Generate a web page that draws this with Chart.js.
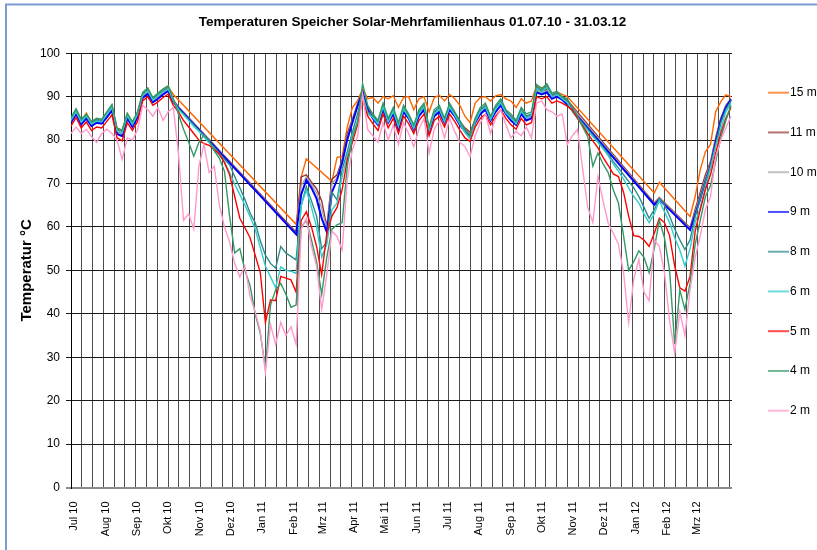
<!DOCTYPE html>
<html>
<head>
<meta charset="utf-8">
<script src="https://cdn.jsdelivr.net/npm/chart.js@4/dist/chart.umd.min.js"></script>
<style>
  html, body { margin: 0; padding: 0; background: #fff; }
  canvas { display: block; }
</style>
</head>
<body>
<canvas id="chartSpeicher" width="817" height="550"></canvas>
<script>
// ══════════════════════════════════════════════════
//  DATA  (Tage ab 01.07.10, Temperaturen in °C)
// ══════════════════════════════════════════════════
const days = [
  0,5,10,15,20,25,30,35,40,45,
  50,55,60,65,70,75,80,85,90,95,
  100,105,110,115,120,125,130,135,140,145,
  150,155,160,165,170,175,180,185,190,195,
  200,205,210,215,220,225,230,235,240,245,
  250,255,260,265,270,275,280,285,290,295,
  300,305,310,315,320,325,330,335,340,345,
  350,355,360,365,370,375,380,385,390,395,
  400,405,410,415,420,425,430,435,440,445,
  450,455,460,465,470,475,480,485,490,495,
  500,505,510,515,520,525,530,535,540,545,
  550,555,560,565,570,575,580,585,590,595,
  600,605,610,615,620,625,630,635,640,645
];

const monthLabels = ['Jul 10','Aug 10','Sep 10','Okt 10','Nov 10','Dez 10','Jan 11','Feb 11','Mrz 11','Apr 11','Mai 11',
  'Jun 11','Jul 11','Aug 11','Sep 11','Okt 11','Nov 11','Dez 11','Jan 12','Feb 12','Mrz 12'];
const monthStart = [0,31,62,92,123,153,184,215,243,274,304,335,365,396,427,457,488,518,549,580,609];

const yTicks = [0,10,20,30,40,50,60,70,80,90,100];

const t15 = [
  84.8,87.0,84.5,86.2,84.0,84.8,84.5,86.2,88.0,82.5,
  82.2,86.0,84.0,86.3,90.5,91.8,89.5,90.5,91.5,92.3,
  90.5,null,null,null,null,null,null,null,null,null,
  null,null,null,null,null,null,null,null,null,null,
  null,null,null,null,60.6,71.5,75.7,null,null,null,
  null,70.5,76.0,76.2,83.0,87.5,89.0,91.8,89.5,89.8,
  88.5,90.0,89.5,90.2,87.5,89.8,90.0,87.0,89.5,90.0,
  86.5,89.8,90.3,89.0,90.5,89.5,88.0,85.5,84.0,88.5,
  89.8,90.0,89.0,90.2,90.5,89.5,89.0,87.5,89.5,88.5,
  89.0,92.5,92.0,92.3,90.5,91.0,90.5,90.0,null,null,
  null,null,null,null,null,null,null,null,null,null,
  null,null,null,null,67.8,70.3,null,null,null,null,
  null,62.4,67.0,73.2,77.3,79.0,86.5,88.8,90.4,90.0
];
const t11 = [
  84.6,86.5,84.2,85.6,83.8,84.5,84.3,85.8,87.4,82.0,
  81.5,85.5,83.6,85.8,90.2,91.2,89.2,90.0,91.0,91.8,
  89.2,87.7,null,null,null,null,null,null,null,null,
  null,null,null,null,null,null,null,null,null,null,
  null,null,null,null,58.8,71.5,72.0,70.3,68.8,66.0,
  60.0,71.0,72.0,75.5,81.5,84.8,88.3,91.0,87.5,85.8,
  84.3,87.8,84.8,86.8,83.3,87.2,85.8,83.2,86.3,87.8,
  82.8,86.3,87.3,84.8,87.8,86.3,84.3,82.8,81.8,84.8,
  86.8,87.8,85.3,87.3,88.8,86.8,85.3,84.3,86.8,85.3,
  85.8,91.8,91.2,91.8,90.2,90.6,90.0,89.2,null,null,
  null,null,null,null,null,null,null,null,null,null,
  null,null,null,null,65.5,66.8,null,null,null,null,
  null,59.8,64.0,68.0,72.0,75.0,80.5,85.0,88.0,89.5
];
const t10 = [
  84.4,86.3,84.0,85.4,83.6,84.3,84.1,85.6,87.2,81.8,
  81.3,85.3,83.4,85.6,90.0,91.0,89.0,89.8,90.8,91.6,
  89.0,87.6,null,null,null,null,null,null,null,null,
  null,null,null,null,null,null,null,null,null,null,
  null,null,null,null,58.5,69.5,71.5,69.8,67.8,64.2,
  59.5,70.0,71.3,75.0,80.8,84.3,88.0,91.0,87.2,85.4,
  83.9,87.4,84.4,86.4,82.9,86.8,85.4,82.8,85.9,87.4,
  82.4,85.9,86.9,84.4,87.4,85.9,83.9,82.4,81.4,84.4,
  86.4,87.4,84.9,86.9,88.4,86.4,84.9,83.9,86.4,84.9,
  85.4,91.4,90.8,91.4,89.8,90.3,89.6,88.8,null,null,
  null,null,null,null,null,null,null,null,null,null,
  null,null,null,null,65.3,66.6,null,null,null,null,
  null,59.5,63.4,67.2,71.2,74.5,80.0,84.8,87.8,89.4
];
const t9 = [
  84.0,86.0,83.6,85.0,83.2,84.0,83.8,85.2,86.8,81.4,
  80.9,85.0,83.0,85.2,89.7,90.6,88.7,89.5,90.5,91.3,
  88.8,87.4,null,null,null,null,null,null,null,null,
  null,null,null,null,null,null,null,null,null,null,
  null,null,null,null,58.3,67.5,70.8,69.0,66.5,62.0,
  58.8,68.0,70.8,74.7,80.1,84.0,87.8,91.0,87.0,85.0,
  83.5,87.0,84.0,86.0,82.5,86.5,85.0,82.4,85.5,87.0,
  82.0,85.5,86.5,84.0,87.0,85.5,83.5,82.0,81.0,84.0,
  86.0,87.0,84.5,86.5,88.0,86.0,84.5,83.5,86.0,84.5,
  85.0,91.0,90.5,91.0,89.5,90.0,89.3,88.2,null,null,
  null,null,null,null,null,null,null,null,null,null,
  null,null,null,null,65.1,66.3,null,null,null,null,
  null,59.3,62.8,66.5,70.5,74.0,79.5,84.5,87.5,89.3
];
const t8 = [
  84.8,86.8,84.4,85.8,84.0,84.7,84.5,86.2,87.8,82.4,
  82.0,85.9,83.9,86.2,90.6,91.6,89.5,90.5,91.4,92.1,
  89.2,87.2,86.0,84.7,83.5,82.2,81.0,79.6,78.3,77.0,
  75.6,74.3,71.6,69.0,66.3,63.2,61.0,56.8,53.5,51.6,
  50.5,55.5,54.0,53.2,52.4,65.0,69.3,66.0,62.5,55.0,
  56.5,68.0,66.2,73.2,77.3,81.8,86.0,90.5,86.5,85.5,
  84.0,88.0,84.5,87.0,83.5,87.5,85.5,83.0,86.5,88.0,
  82.5,86.5,87.5,84.5,88.0,86.0,84.0,82.0,80.5,84.5,
  87.0,88.0,85.0,87.5,89.0,86.5,85.5,84.0,87.0,85.5,
  86.0,92.3,91.4,92.5,90.4,90.8,89.8,89.0,86.8,85.3,
  83.9,82.5,81.1,79.7,78.3,76.8,75.0,73.6,72.0,70.5,
  69.0,67.0,64.5,62.0,64.0,66.5,65.0,62.5,59.5,57.0,
  54.8,57.0,62.4,66.5,70.5,74.0,79.0,84.0,87.0,89.0
];
const t6 = [
  84.5,86.5,84.1,85.5,83.7,84.4,84.2,85.9,87.5,82.1,
  81.6,85.6,83.6,85.9,90.3,91.3,89.2,90.2,91.1,91.8,
  89.0,87.0,85.8,84.5,83.2,82.0,80.7,79.4,78.0,76.5,
  75.0,72.5,69.8,67.5,65.0,62.4,59.5,55.2,51.0,48.5,
  46.0,50.8,50.0,49.8,49.3,65.0,68.5,64.5,60.0,53.0,
  56.0,64.0,65.5,71.6,76.3,81.0,84.5,90.0,86.0,85.2,
  83.7,87.6,84.2,86.6,83.1,87.1,85.2,82.7,86.1,87.6,
  82.2,86.1,87.1,84.2,87.6,85.7,83.7,81.7,80.3,84.2,
  86.6,87.6,84.7,87.1,88.6,86.2,85.1,83.7,86.6,85.1,
  85.7,91.9,91.0,92.1,90.0,90.5,89.5,88.6,86.5,85.0,
  83.6,82.2,80.8,79.4,78.0,76.4,74.5,72.8,71.0,69.0,
  67.0,65.5,63.0,61.0,63.0,66.0,63.5,61.0,57.5,54.7,
  51.0,55.0,61.0,64.5,69.0,73.5,78.5,82.5,86.5,88.5
];
const t5 = [
  83.2,85.2,82.8,84.2,82.2,83.0,82.8,84.3,85.8,80.5,
  79.8,84.0,82.2,84.3,89.0,90.0,88.0,88.8,89.8,90.6,
  88.0,86.5,84.5,83.0,81.5,80.0,79.2,78.8,77.8,76.8,
  74.8,72.0,67.0,62.0,59.8,57.5,53.5,49.5,38.0,43.2,
  43.0,48.6,48.2,47.8,45.0,61.5,63.5,60.0,55.5,49.0,
  58.5,62.5,64.5,68.6,75.5,79.5,83.5,89.3,85.5,83.8,
  82.2,86.0,82.8,85.0,81.5,85.5,83.8,81.5,84.5,86.0,
  81.0,84.5,85.5,83.0,86.0,84.3,82.3,80.5,79.7,83.0,
  85.0,86.0,83.5,85.5,87.0,85.0,83.5,82.5,85.0,83.5,
  84.0,90.0,89.5,90.0,88.5,89.0,88.5,87.8,86.9,85.0,
  83.3,81.5,79.8,78.2,76.0,74.2,72.2,71.6,68.0,62.5,
  58.0,57.8,57.0,55.5,58.5,62.0,61.0,58.0,51.0,46.0,
  45.2,48.6,59.0,64.0,68.6,72.0,77.0,81.5,85.0,87.5
];
const t4 = [
  85.2,87.2,84.8,86.0,84.3,85.0,84.8,86.5,88.2,82.8,
  82.3,86.2,84.2,86.5,91.0,92.0,89.8,90.8,91.8,92.5,
  89.5,86.0,82.5,79.5,76.3,79.5,81.2,79.8,77.5,75.8,
  72.8,62.5,54.0,55.0,50.0,46.5,40.0,35.5,27.5,42.0,
  45.5,47.0,44.5,41.5,42.0,60.0,61.5,57.0,52.0,44.5,
  53.0,59.5,60.5,61.0,74.0,80.5,84.0,93.0,88.0,86.0,
  84.5,88.5,85.0,87.5,84.0,88.0,86.0,83.5,87.0,88.5,
  83.0,87.0,88.0,85.0,88.5,86.5,84.5,82.5,81.0,85.0,
  87.5,88.5,85.5,88.0,89.5,87.0,86.0,84.5,87.5,86.0,
  86.5,92.8,91.8,93.0,90.8,91.2,90.0,89.5,87.5,85.5,
  83.0,80.8,74.0,77.0,74.5,72.5,68.5,65.5,58.0,50.0,
  52.0,54.5,53.0,49.5,55.0,61.5,57.5,50.0,33.0,45.5,
  41.0,47.0,56.0,61.5,67.0,69.5,75.0,80.5,84.5,88.0
];
const t2 = [
  81.5,83.0,81.5,82.5,80.8,79.5,81.5,82.5,81.5,80.0,
  75.5,80.5,80.0,82.3,88.0,87.0,85.5,87.5,84.5,86.5,
  87.5,77.0,61.5,63.0,59.5,74.0,79.0,72.5,74.0,65.0,
  60.0,56.5,51.5,48.5,51.0,44.0,40.5,36.0,26.5,37.5,
  33.0,38.0,35.0,37.0,33.0,59.5,62.0,55.5,51.0,41.0,
  49.0,59.0,57.8,54.7,70.9,77.8,80.8,90.5,82.4,81.0,
  79.5,84.0,80.0,83.5,79.0,84.0,81.5,78.5,82.5,85.0,
  77.0,82.5,84.5,80.5,85.0,82.0,79.5,78.5,76.2,81.0,
  84.0,86.0,81.5,85.0,87.0,83.5,80.5,82.0,81.0,83.0,
  80.5,88.5,89.0,87.0,86.5,85.5,86.0,79.0,81.0,82.5,
  73.5,64.5,61.0,71.6,66.0,60.9,58.5,56.0,49.5,38.0,
  48.0,52.5,45.0,43.0,57.0,55.5,49.5,38.5,31.0,40.5,
  35.0,45.5,53.0,58.0,64.0,67.0,76.0,80.0,82.8,85.5
];

// ══════════════════════════════════════════════════
//  CHART
// ══════════════════════════════════════════════════
const FONT = "'Liberation Sans', Arial, sans-serif";
const X_MAX = 646;
const GRID_STEP = 10.55;

const gridDays = [];
for (let v = 0; v <= X_MAX; v += GRID_STEP) gridDays.push(v);

function series(label, values, color, width) {
  return {
    label,
    data: days.map((d, i) => ({ x: d, y: values[i] })),
    borderColor: color,
    backgroundColor: color,
    borderWidth: width || 1.4,
    pointRadius: 0,
    tension: 0,
    spanGaps: true,
    fill: false,
  };
}

// drawn last = on top, so 2 m first
const datasets = [
  series('2 m',  t2,  '#ff99cc'),
  series('4 m',  t4,  '#339966'),
  series('5 m',  t5,  '#ff0000'),
  series('6 m',  t6,  '#33cccc'),
  series('8 m',  t8,  '#2e8b8b'),
  series('9 m',  t9,  '#0000ff', 2),
  series('10 m', t10, '#a6a6a6'),
  series('11 m', t11, '#993333'),
  series('15 m', t15, '#ff6600'),
];

const framePlugin = {
  id: 'frame',
  beforeDraw(chart) {
    const c = chart.ctx;
    c.save();
    c.fillStyle = '#fff';
    c.fillRect(0, 0, chart.width, chart.height);
    c.strokeStyle = '#7b9bd2';
    c.lineWidth = 2;
    c.beginPath();
    c.moveTo(6, chart.height);
    c.lineTo(6, 4.5);
    c.lineTo(chart.width, 4.5);
    c.stroke();
    c.restore();
  }
};

const sideLegend = {
  id: 'sideLegend',
  afterDraw(chart) {
    const c = chart.ctx;
    const area = chart.chartArea;
    const x0 = area.right + 36;
    let y = area.top + 39.5;
    c.save();
    c.font = '12px ' + FONT;
    c.textBaseline = 'middle';
    c.textAlign = 'left';
    [...chart.data.datasets].reverse().forEach(ds => {
      c.globalAlpha = 0.7;
      c.strokeStyle = ds.borderColor;
      c.lineWidth = 2;
      c.beginPath();
      c.moveTo(x0, y);
      c.lineTo(x0 + 21, y);
      c.stroke();
      c.globalAlpha = 1;
      c.fillStyle = '#000';
      c.fillText(ds.label, x0 + 22, y);
      y += 39.75;
    });
    c.restore();
  }
};

new Chart(document.getElementById('chartSpeicher').getContext('2d'), {
  type: 'line',
  data: { datasets },
  options: {
    responsive: false,
    animation: false,
    layout: { padding: { left: 8, right: 0, top: 0, bottom: 0 } },
    plugins: {
      legend: { display: false },
      tooltip: { enabled: false },
      title: {
        display: true,
        text: 'Temperaturen Speicher Solar-Mehrfamilienhaus 01.07.10 - 31.03.12',
        color: '#000',
        font: { family: FONT, size: 13.5, weight: 'bold' },
        padding: { top: 14, bottom: 23 },
      },
    },
    scales: {
      x: {
        type: 'linear', position: 'bottom', weight: 0,
        min: 0, max: X_MAX,
        afterBuildTicks: s => { s.ticks = gridDays.map(v => ({ value: v })); },
        afterFit: s => { s.height = 0; },
        grid: { color: '#4d4d4d', lineWidth: 1, drawTicks: false },
        border: { display: false },
        ticks: { display: false },
      },
      xl: {
        type: 'linear', position: 'bottom', weight: 1,
        min: 0, max: X_MAX,
        afterBuildTicks: s => { s.ticks = monthStart.map(v => ({ value: v })); },
        afterFit: s => { s.height = 62.5; },
        grid: { display: false, drawTicks: false },
        border: { display: false },
        ticks: {
          autoSkip: false, maxRotation: 90, minRotation: 90, padding: 14, labelOffset: 3,
          color: '#000', font: { family: FONT, size: 11 },
          callback: (v, i) => monthLabels[i],
        },
      },
      // leerer Rand rechts für die Legende
      yr: {
        type: 'linear', position: 'right', min: 0, max: 100,
        afterFit: s => { s.width = 85; },
        grid: { display: false, drawTicks: false },
        border: { display: false },
        ticks: { display: false },
      },
      y: {
        min: 0, max: 100,
        afterBuildTicks: s => { s.ticks = yTicks.map(v => ({ value: v })); },
        afterFit: s => { s.width = 63; },
        grid: {
          color: ctx => ctx.tick && ctx.tick.value === 0 ? '#8c8c8c' : '#1a1a1a',
          lineWidth: ctx => ctx.tick && ctx.tick.value === 0 ? 2 : 1,
          tickLength: 5,
        },
        border: { color: '#000', width: 1 },
        ticks: { padding: 6, color: '#000', font: { family: FONT, size: 12 } },
        title: {
          display: true, text: 'Temperatur °C', color: '#000',
          font: { family: FONT, size: 15, weight: 'bold' },
          padding: { top: 10, bottom: 0 },
        },
      },
    },
  },
  plugins: [framePlugin, sideLegend],
});
</script>
</body>
</html>
